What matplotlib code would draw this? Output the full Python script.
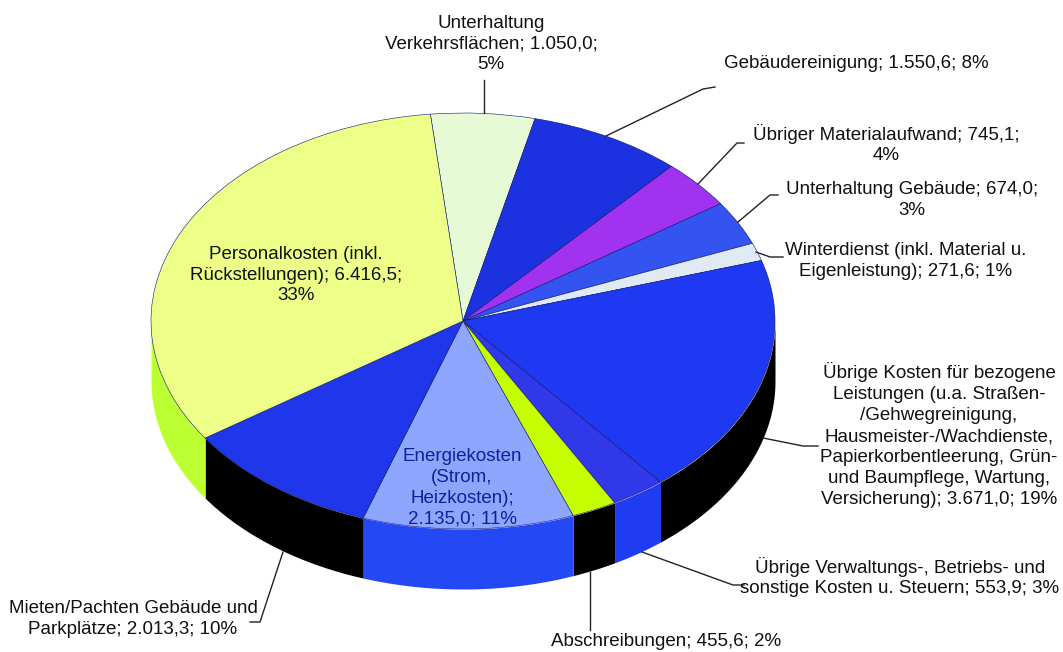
import matplotlib
matplotlib.use("Agg")
import matplotlib.pyplot as plt
import numpy as np

plt.rcParams['font.family'] = ['Liberation Sans', 'DejaVu Sans']

# Costs, clockwise from the top of the pie
categories = ["Unterhaltung Verkehrsflächen", "Gebäudereinigung", "Übriger Materialaufwand",
              "Unterhaltung Gebäude", "Winterdienst", "Übrige Kosten bezogene Leistungen",
              "Übrige Verwaltungskosten", "Abschreibungen", "Energiekosten",
              "Mieten/Pachten", "Personalkosten"]
values = [1050.0, 1550.6, 745.1, 674.0, 271.6, 3671.0, 553.9, 455.6, 2135.0, 2013.3, 6416.5]

top_colors = ['#e6fad6', '#1c32e0', '#a032f0', '#3354f0', '#dfeaf5', '#1f38f2',
              '#3038ea', '#c6ff00', '#8fa6ff', '#1f36ea', '#eeff88']
side_colors = ['#e6fad6', '#1c32e0', '#a032f0', '#3354f0', '#dfeaf5', '#000000',
               '#1f3cf0', '#000000', '#2448f4', '#000000', '#bcff33']

labels = ["Unterhaltung\nVerkehrsflächen; 1.050,0;\n5%",
          "Gebäudereinigung; 1.550,6; 8%",
          "Übriger Materialaufwand; 745,1;\n4%",
          "Unterhaltung Gebäude; 674,0;\n3%",
          "Winterdienst (inkl. Material u.\nEigenleistung); 271,6; 1%",
          "Übrige Kosten für bezogene\nLeistungen (u.a. Straßen-\n/Gehwegreinigung,\nHausmeister-/Wachdienste,\nPapierkorbentleerung, Grün-\nund Baumpflege, Wartung,\nVersicherung); 3.671,0; 19%",
          "Übrige Verwaltungs-, Betriebs- und\nsonstige Kosten u. Steuern; 553,9; 3%",
          "Abschreibungen; 455,6; 2%",
          "Energiekosten\n(Strom,\nHeizkosten);\n2.135,0; 11%",
          "Mieten/Pachten Gebäude und\nParkplätze; 2.013,3; 10%",
          "Personalkosten (inkl.\nRückstellungen); 6.416,5;\n33%"]

# label centres in pixels
label_x = [491, 856, 886, 912, 906, 939, 900, 666, 462, 133, 296]
label_y = [44, 64, 144, 200, 261, 435, 577, 642, 488, 619, 275]
label_colors = ['#111111'] * 8 + ['#10209a'] + ['#111111'] * 2

# leader lines in pixels, None for labels sitting on the pie
leaders = [[(484, 80), (484, 113)],
           [(606, 136), (703, 89), (715, 87)],
           [(698, 184), (737, 143), (744, 143)],
           [(738, 222), (770, 195), (778, 195)],
           [(756, 252), (770, 257), (783, 257)],
           [(763, 438), (803, 446), (818, 446)],
           [(642, 552), (733, 585), (744, 585)],
           [(590, 572), (590, 630)],
           None,
           [(283, 552), (260, 622), (250, 622)],
           None]

W, H = 1063, 652
start_angle = 96.0
cx, cy, rx, ry, depth = 463, 321, 312, 208, 60

fig = plt.figure(figsize=(W / 100, H / 100), dpi=100)

# pie axes: unit circle squashed into the ellipse, with room below for the wall
pie_ax = fig.add_axes([(cx - rx) / W, 1 - (cy + ry + depth) / H, 2 * rx / W, (2 * ry + depth) / H])
pie_ax.pie(values, colors=top_colors, startangle=start_angle, counterclock=False, radius=1,
           wedgeprops={'edgecolor': '#0c1670', 'linewidth': 0.4})
d = depth / ry
pie_ax.set_aspect('auto')
pie_ax.set_xlim(-1, 1)
pie_ax.set_ylim(-1 - d, 1)

# side wall of the visible lower half
edges = start_angle - np.cumsum([0] + values) / sum(values) * 360
for i in range(len(values)):
    a0, a1 = edges[i], edges[i + 1]
    for shift in (0, -360):
        lo, hi = max(a1 + shift, -180), min(a0 + shift, 0)
        if hi > lo:
            t = np.radians(np.linspace(lo, hi, 60))
            pie_ax.fill_between(np.cos(t), np.sin(t), np.sin(t) - d, color=side_colors[i],
                                linewidth=0, zorder=0)

# overlay in pixel coordinates for labels and leaders
ax = fig.add_axes([0, 0, 1, 1])
ax.set_xlim(0, W)
ax.set_ylim(H, 0)
ax.axis('off')
ax.patch.set_alpha(0)

for line in leaders:
    if line:
        xs, ys = zip(*line)
        ax.plot(xs, ys, color='#222222', lw=1.0)

for txt, x, y, c in zip(labels, label_x, label_y, label_colors):
    ax.text(x, y, txt, ha='center', va='center', fontsize=13.5, color=c, linespacing=1.3)

fig.savefig("out.png", dpi=100)
